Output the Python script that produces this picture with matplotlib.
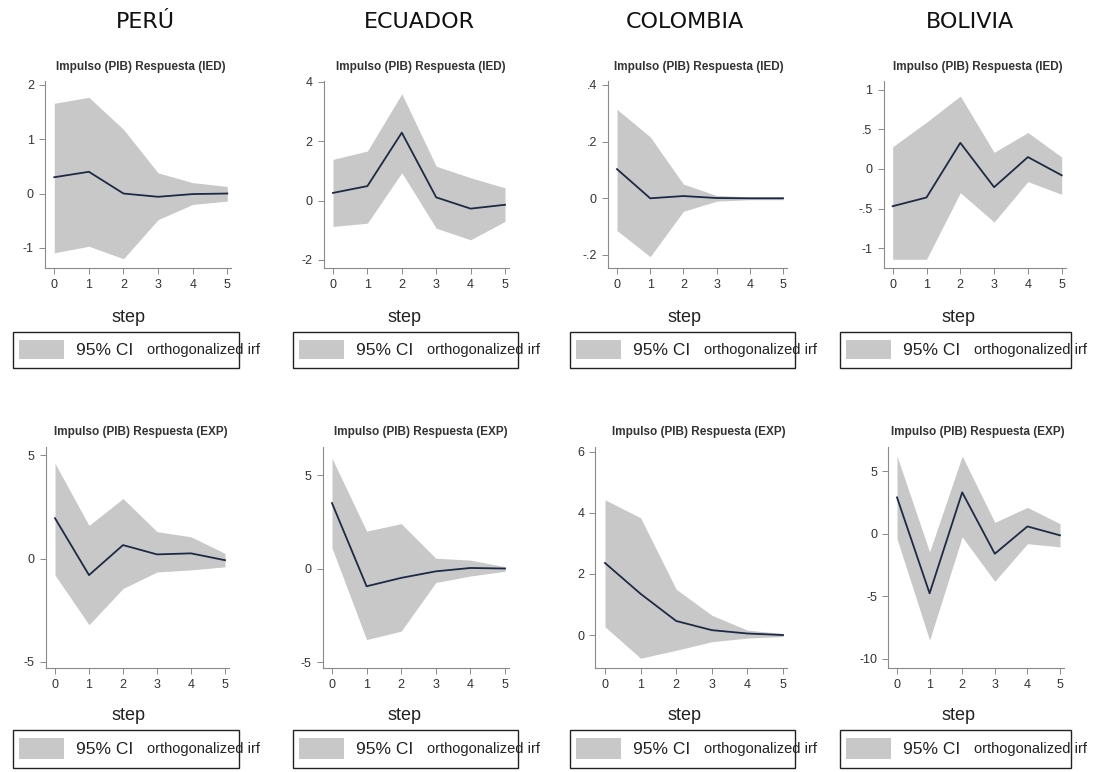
import matplotlib
matplotlib.use("Agg")
import matplotlib.pyplot as plt
from matplotlib.patches import Rectangle

# ---------------------------------------------------------------- data
steps = [0, 1, 2, 3, 4, 5]
countries = ["PERÚ", "ECUADOR", "COLOMBIA", "BOLIVIA"]
row_titles = ["Impulso (PIB) Respuesta (IED)", "Impulso (PIB) Respuesta (EXP)"]
legend_main = "95% CI"
legend_sub = "orthogonalized irf"
x_label = "step"

# IED response
peru_ied_irf = [0.30, 0.40, 0.00, -0.06, -0.01, 0.00]
peru_ied_hi = [1.66, 1.77, 1.18, 0.38, 0.20, 0.13]
peru_ied_lo = [-1.09, -0.97, -1.20, -0.48, -0.20, -0.14]

ecuador_ied_irf = [0.26, 0.49, 2.29, 0.11, -0.27, -0.14]
ecuador_ied_hi = [1.39, 1.67, 3.60, 1.16, 0.77, 0.43]
ecuador_ied_lo = [-0.87, -0.76, 0.94, -0.93, -1.32, -0.70]

colombia_ied_irf = [0.103, 0.000, 0.008, 0.001, 0.000, 0.000]
colombia_ied_hi = [0.314, 0.217, 0.050, 0.010, 0.005, 0.005]
colombia_ied_lo = [-0.114, -0.206, -0.046, -0.010, -0.005, -0.005]

bolivia_ied_irf = [-0.47, -0.36, 0.33, -0.23, 0.15, -0.08]
bolivia_ied_hi = [0.28, 0.59, 0.92, 0.21, 0.46, 0.15]
bolivia_ied_lo = [-1.14, -1.14, -0.30, -0.67, -0.16, -0.32]

# EXP response
peru_exp_irf = [1.95, -0.80, 0.65, 0.20, 0.25, -0.08]
peru_exp_hi = [4.60, 1.60, 2.90, 1.30, 1.05, 0.25]
peru_exp_lo = [-0.80, -3.20, -1.45, -0.65, -0.55, -0.40]

ecuador_exp_irf = [3.50, -0.95, -0.50, -0.15, 0.03, 0.00]
ecuador_exp_hi = [5.90, 2.00, 2.40, 0.55, 0.45, 0.10]
ecuador_exp_lo = [1.10, -3.80, -3.35, -0.75, -0.40, -0.15]

colombia_exp_irf = [2.36, 1.35, 0.46, 0.16, 0.05, 0.00]
colombia_exp_hi = [4.43, 3.84, 1.50, 0.65, 0.16, 0.05]
colombia_exp_lo = [0.27, -0.76, -0.50, -0.22, -0.10, -0.05]

bolivia_exp_irf = [2.90, -4.76, 3.30, -1.60, 0.58, -0.13]
bolivia_exp_hi = [6.20, -1.45, 6.20, 0.90, 2.10, 0.80]
bolivia_exp_lo = [-0.40, -8.50, -0.25, -3.80, -0.80, -1.05]

# y ticks and their labels per panel
ied_yticks = [[2, 1, 0, -1], [4, 2, 0, -2], [0.4, 0.2, 0, -0.2], [1, 0.5, 0, -0.5, -1]]
ied_ylabels = [["2", "1", "0", "-1"], ["4", "2", "0", "-2"],
               [".4", ".2", "0", "-.2"], ["1", ".5", "0", "-.5", "-1"]]
exp_yticks = [[5, 0, -5], [5, 0, -5], [6, 4, 2, 0], [5, 0, -5, -10]]
exp_ylabels = [["5", "0", "-5"], ["5", "0", "-5"],
               ["6", "4", "2", "0"], ["5", "0", "-5", "-10"]]

ied_series = [
    (peru_ied_irf, peru_ied_lo, peru_ied_hi),
    (ecuador_ied_irf, ecuador_ied_lo, ecuador_ied_hi),
    (colombia_ied_irf, colombia_ied_lo, colombia_ied_hi),
    (bolivia_ied_irf, bolivia_ied_lo, bolivia_ied_hi),
]
exp_series = [
    (peru_exp_irf, peru_exp_lo, peru_exp_hi),
    (ecuador_exp_irf, ecuador_exp_lo, ecuador_exp_hi),
    (colombia_exp_irf, colombia_exp_lo, colombia_exp_hi),
    (bolivia_exp_irf, bolivia_exp_lo, bolivia_exp_hi),
]

# ---------------------------------------------------------------- layout (pixels)
W, H = 1104, 772
FONT = ["Liberation Sans", "DejaVu Sans"]
CI_COLOR = "#c8c8c8"
LINE_COLOR = "#1d2a45"
AXIS_COLOR = "#8a8a8a"

rows = [
    dict(series=ied_series, yticks=ied_yticks, ylabels=ied_ylabels,
         ylims=[(-1.37, 2.07), (-2.27, 4.03), (-0.246, 0.414), (-1.25, 1.11)],
         x05=[(54.3, 227.3), (333, 505), (617, 783), (892.7, 1061.7)],
         top=81, bottom=268, title_y=67, step_y=317, leg=(332, 368)),
    dict(series=exp_series, yticks=exp_yticks, ylabels=exp_ylabels,
         ylims=[(-5.29, 5.39), (-5.32, 6.5), (-1.08, 6.16), (-10.72, 6.92)],
         x05=[(55, 225), (332, 505), (605, 783), (897, 1060)],
         top=447, bottom=668, title_y=432, step_y=715, leg=(730, 768)),
]
title_x = [141, 421, 699, 978]
country_x = [145, 419, 685, 970]
step_x = [128, 405, 684, 958]
legend_x = [(13, 239), (293, 518), (570, 795), (840, 1071)]
XMIN, XMAX = -0.27, 5.12


def fx(x):
    return x / W


def fy(y):
    return 1 - y / H


fig = plt.figure(figsize=(W / 100, H / 100), dpi=100)
fig.patch.set_facecolor("white")

for c, name in enumerate(countries):
    fig.text(fx(country_x[c]), fy(22), name, ha="center", va="center",
             fontsize=16, family="DejaVu Sans", color="#111111")

for r, row in enumerate(rows):
    for c in range(4):
        irf, lo, hi = row["series"][c]
        x0, x5 = row["x05"][c]
        s = (x5 - x0) / 5.0
        left = x0 + XMIN * s
        right = x0 + XMAX * s
        ax = fig.add_axes([fx(left), fy(row["bottom"]),
                           (right - left) / W, (row["bottom"] - row["top"]) / H])
        ax.fill_between(steps, lo, hi, color=CI_COLOR, linewidth=0)
        ax.plot(steps, irf, color=LINE_COLOR, linewidth=1.3)
        ax.set_xlim(XMIN, XMAX)
        ax.set_ylim(*row["ylims"][c])
        ax.set_xticks(steps)
        ax.set_xticklabels([str(v) for v in steps])
        ax.set_yticks(row["yticks"][c])
        ax.set_yticklabels(row["ylabels"][c])
        for side in ("top", "right"):
            ax.spines[side].set_visible(False)
        for side in ("left", "bottom"):
            ax.spines[side].set_color(AXIS_COLOR)
            ax.spines[side].set_linewidth(0.8)
        ax.tick_params(direction="out", length=4, width=0.7, color=AXIS_COLOR,
                       labelcolor="#333333", labelsize=9, pad=4)
        for lab in ax.get_xticklabels() + ax.get_yticklabels():
            lab.set_family(FONT)
        ax.set_facecolor("white")

        # panel title and x-axis label
        fig.text(fx(title_x[c]), fy(row["title_y"]), row_titles[r], ha="center",
                 va="center", fontsize=8.5, fontweight="bold", family=FONT,
                 color="#333333")
        fig.text(fx(step_x[c]), fy(row["step_y"]), x_label, ha="center",
                 va="center", fontsize=13, family=FONT, color="#222222")

        # legend box
        bl, br = legend_x[c]
        bt, bb = row["leg"]
        fig.add_artist(Rectangle((fx(bl), fy(bb)), (br - bl) / W, (bb - bt) / H,
                                 transform=fig.transFigure, facecolor="none",
                                 edgecolor="#222222", linewidth=1.0, zorder=5))
        fig.add_artist(Rectangle((fx(bl + 6), fy(bb - 9)), 45 / W, (bb - bt - 17) / H,
                                 transform=fig.transFigure, facecolor=CI_COLOR,
                                 edgecolor="none", zorder=4))
        ymid = fy((bt + bb) / 2)
        fig.text(fx(bl + 63), ymid, legend_main, ha="left", va="center",
                 fontsize=12.5, family=FONT, color="#222222")
        fig.text(fx(bl + 134), ymid, legend_sub, ha="left", va="center",
                 fontsize=10.5, family=FONT, color="#222222")

fig.savefig("out.png", dpi=100, facecolor="white")
